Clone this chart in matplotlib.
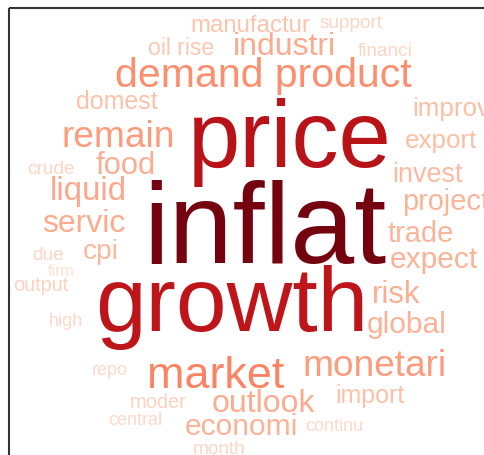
import numpy as np
import matplotlib
matplotlib.use('Agg')
import matplotlib.pyplot as plt

plt.rcParams['font.family'] = ['Liberation Sans', 'DejaVu Sans']

# words and their weights (relative frequency)
words = ['inflat', 'price', 'growth', 'market', 'demand product', 'monetari', 'remain',
         'industri', 'liquid', 'food', 'outlook', 'servic', 'economi', 'risk', 'global',
         'expect', 'trade', 'project', 'cpi', 'invest', 'improv', 'export', 'domest',
         'import', 'manufactur', 'oil rise', 'moder', 'output', 'financi', 'support',
         'crude', 'due', 'month', 'high', 'central', 'continu', 'repo', 'firm']
freq = [115, 94, 91, 45, 41, 37, 37,
        32, 33, 31, 32, 32, 30, 31, 30,
        30, 29, 29, 28, 27, 26, 26, 25,
        25, 24, 23, 20, 20, 19, 19,
        19, 19, 19, 18, 18, 18, 18, 16]

# layout: left x and baseline y in pixels
xpos = [143, 188, 95, 147, 115, 302, 61,
        233, 50, 95, 212, 42, 185, 372, 367,
        390, 388, 402, 83, 392, 412, 405, 76,
        335, 190, 148, 130, 13, 358, 320,
        27, 32, 193, 49, 108, 305, 92, 48]
ypos = [263, 167, 331, 388, 87, 376, 147,
        55, 200, 174, 412, 232, 435, 303, 333,
        268, 242, 210, 259, 182, 116, 148, 109,
        403, 32, 55, 408, 291, 56, 28,
        174, 260, 454, 326, 425, 431, 375, 276]

W, H = 484, 456
fig = plt.figure(figsize=(W / 100, H / 100), dpi=100)
ax = fig.add_axes([0, 0, 1, 1])
ax.set_xlim(0, W)
ax.set_ylim(H, 0)
ax.axis('off')

f = np.array(freq, dtype=float)
t = ((f - f.min()) / (f.max() - f.min())) ** 0.85
cols = plt.cm.Reds(0.12 + 0.85 * t)

for w, fr, x, y, c in zip(words, freq, xpos, ypos, cols):
    ax.text(x, y, w, fontsize=fr * 0.72, color=c, ha='left', va='baseline')

# frame lines
ax.plot([9, W], [9, 9], color='#333333', lw=1.5, solid_capstyle='butt')
ax.plot([9, 9], [9, H], color='#333333', lw=1.5, solid_capstyle='butt')

fig.savefig('out.png', dpi=100)
